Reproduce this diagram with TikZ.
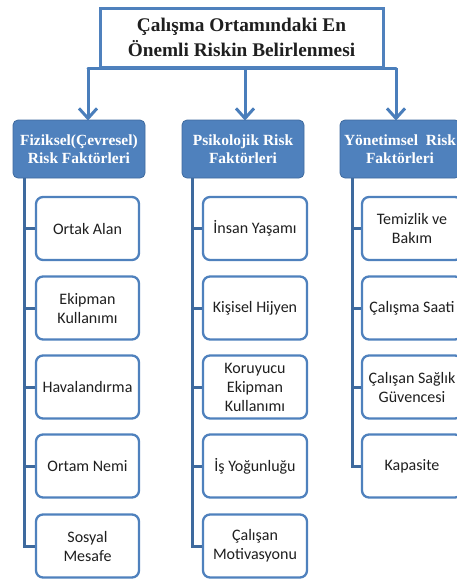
\documentclass[tikz,border=0pt]{standalone}
\usepackage{fontspec}
\setmainfont{Liberation Serif}
\newfontfamily\calfont{Carlito}
\usetikzlibrary{arrows.meta}
\definecolor{obl}{HTML}{4F81BD}
\definecolor{obd}{HTML}{3E6A9E}
\definecolor{lnk}{HTML}{4A7EBB}
\definecolor{txt}{HTML}{1F1F1F}
\begin{document}
\begin{tikzpicture}[x=1pt,y=-1pt,
  titlebox/.style={draw=obl, line width=3pt, fill=white, minimum width=283pt, minimum height=59pt,
    align=center, font=\bfseries\fontsize{19.3}{25}\selectfont, inner sep=0pt, text=txt},
  headbox/.style={fill=obl, draw=obd, line width=0.8pt, rounded corners=5pt, text=white,
    font=\bfseries\fontsize{15.5}{17.5}\selectfont, minimum height=58pt, align=center, inner sep=0pt},
  leaf/.style={draw=obl, line width=2.3pt, fill=white, rounded corners=7pt, minimum width=103pt,
    minimum height=63pt, align=center, font=\calfont\fontsize{16}{19}\selectfont, inner sep=0pt, text=txt},
  bus/.style={draw=obd, line width=3pt},
  link/.style={draw=lnk, line width=3pt},
  arr/.style={-{Straight Barb[length=10pt,width=18pt]}}
]
\useasboundingbox (0,0) rectangle (457,579);
\clip (0,0) rectangle (457,579);

% connectors from title
\coordinate (b1) at (88,68);
\coordinate (b2) at (245,68);
\coordinate (b3) at (396,68);

\node[headbox, minimum width=132pt] (h1) at (79,149) {Fiziksel(Çevresel)\\Risk Faktörleri};
\node[headbox, minimum width=122pt] (h2) at (243,149) {Psikolojik Risk\\Faktörleri};
\node[headbox, minimum width=120pt] (h3) at (400,149) {Yönetimsel~ Risk\\Faktörleri};

\draw[link, line cap=round] (b1) -- (b3);
\draw[link, arr] (b1) -- ([yshift=-1pt]b1 |- h1.north);
\draw[link, arr] (b2) -- ([yshift=-1pt]b2 |- h2.north);
\draw[link, arr] (b3) -- ([yshift=-1pt]b3 |- h3.north);

\node[titlebox] (t) at (241.5,37.5) {Çalışma Ortamındaki En\\Önemli Riskin Belirlenmesi};

% left column
\node[leaf] (l1) at (87.5,228.5) {Ortak Alan};
\node[leaf] (l2) at (87.5,308) {Ekipman\\Kullanımı};
\node[leaf] (l3) at (87.5,387) {Havalandırma};
\node[leaf] (l4) at (87.5,466) {Ortam Nemi};
\node[leaf] (l5) at (87.5,546) {Sosyal\\Mesafe};

% middle column
\node[leaf, minimum width=104pt] (m1) at (255,228.5) {İnsan Yaşamı};
\node[leaf, minimum width=104pt] (m2) at (255,308) {Kişisel Hijyen};
\node[leaf, minimum width=104pt] (m3) at (255,387) {Koruyucu\\Ekipman\\Kullanımı};
\node[leaf, minimum width=104pt] (m4) at (255,466) {İş Yoğunluğu};
\node[leaf, minimum width=104pt] (m5) at (255,546) {Çalışan\\Motivasyonu};

% right column
\node[leaf, minimum width=100pt] (r1) at (412,228.5) {Temizlik ve\\Bakım};
\node[leaf, minimum width=100pt] (r2) at (412,308) {Çalışma Saati};
\node[leaf, minimum width=100pt] (r3) at (412,387) {Çalışan Sağlık\\Güvencesi};
\node[leaf, minimum width=100pt] (r4) at (412,466) {Kapasite};

% buses
\coordinate (v1) at (24,178);
\coordinate (v2) at (192,178);
\coordinate (v3) at (352,178);
\draw[bus] (v1) -- (v1 |- l5.west) -- (l5.west);
\foreach \n in {l1,l2,l3,l4} \draw[bus] (v1 |- \n.west) -- (\n.west);
\draw[bus] (v2) -- (v2 |- m5.west) -- (m5.west);
\foreach \n in {m1,m2,m3,m4} \draw[bus] (v2 |- \n.west) -- (\n.west);
\draw[bus] (v3) -- (v3 |- r4.west) -- (r4.west);
\foreach \n in {r1,r2,r3} \draw[bus] (v3 |- \n.west) -- (\n.west);
\end{tikzpicture}
\end{document}
